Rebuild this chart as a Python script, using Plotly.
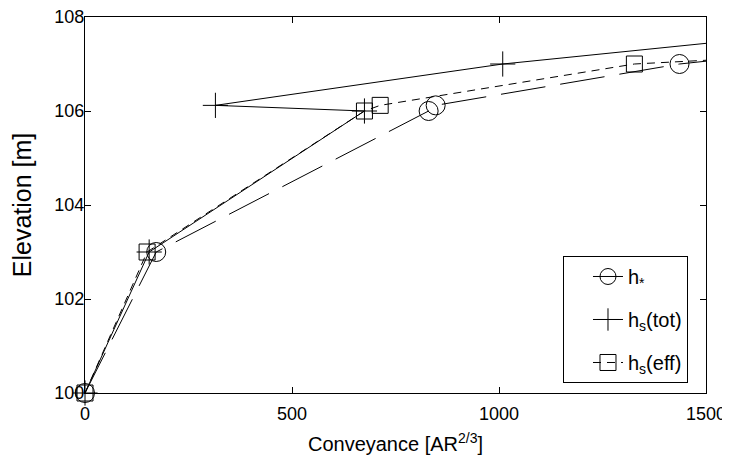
import plotly.graph_objects as go

# Data
hstar_x = [0, 172, 830, 847, 1436, 2500]
hstar_y = [100, 103, 106.0, 106.12, 107.0, 108.0]

hs_tot_x = [0, 155, 675, 315, 1009, 2125]
hs_tot_y = [100, 103, 106.0, 106.12, 107.0, 108.0]

hs_eff_x = [0, 150, 675, 713, 1327, 3500]
hs_eff_y = [100, 103, 106.0, 106.12, 107.0, 108.0]

x_ticks = [0, 500, 1000, 1500]
y_ticks = [100, 102, 104, 106, 108]

FONT = "Liberation Sans, Arial, sans-serif"

fig = go.Figure()
fig.add_trace(go.Scatter(
    x=hstar_x, y=hstar_y, mode="lines+markers", name="h<sub>*</sub>",
    legendgroup="a", cliponaxis=False,
    line=dict(color="black", width=1, dash="45px,15px"),
    marker=dict(symbol="circle-open", size=19, color="black", line=dict(width=1, color="black")),
))
fig.add_trace(go.Scatter(
    x=hs_tot_x, y=hs_tot_y, mode="lines+markers", name="h<sub>s</sub>(tot)",
    legendgroup="b", cliponaxis=False,
    line=dict(color="black", width=1),
    marker=dict(symbol="cross-thin-open", size=18, color="black", line=dict(width=1, color="black")),
))
fig.add_trace(go.Scatter(
    x=hs_eff_x, y=hs_eff_y, mode="lines+markers", name="h<sub>s</sub>(eff)",
    legendgroup="c", cliponaxis=False,
    line=dict(color="black", width=1, dash="8px,6px"),
    marker=dict(symbol="square-open", size=16, color="black", line=dict(width=1, color="black")),
))

axis_common = dict(
    showline=True, linecolor="black", linewidth=1, mirror="ticks",
    ticks="inside", ticklen=6, tickcolor="black", tickwidth=1,
    showgrid=False, zeroline=False, automargin=False,
    ticklabeloverflow="allow",
    tickfont=dict(family=FONT, size=18, color="black"),
)

fig.update_xaxes(
    range=[0, 1500], tickvals=x_ticks, ticktext=[str(v) for v in x_ticks],
    ticklabelstandoff=4,
    title=dict(text="Conveyance [AR<sup>2/3</sup>]", font=dict(family=FONT, size=20, color="black"), standoff=14),
    **axis_common,
)
fig.update_yaxes(
    range=[100, 108], tickvals=y_ticks, ticktext=[str(v) for v in y_ticks],
    ticklabelstandoff=-4,
    title=dict(text="Elevation [m]", font=dict(family=FONT, size=25, color="black"), standoff=18),
    **axis_common,
)

# the page body has an 8px margin, so the figure is 8px smaller than the window
fig.update_layout(
    width=722, height=447,
    margin=dict(l=77, r=24, t=9, b=62),
    plot_bgcolor="white", paper_bgcolor="white",
    font=dict(family=FONT, color="black"),
    legend=dict(
        x=0.971, y=0.0266, xanchor="right", yanchor="bottom",
        bgcolor="white", bordercolor="black", borderwidth=1,
        font=dict(family=FONT, size=20, color="black"),
        tracegroupgap=14, indentation=24,
    ),
)

fig.write_html("out.html")
